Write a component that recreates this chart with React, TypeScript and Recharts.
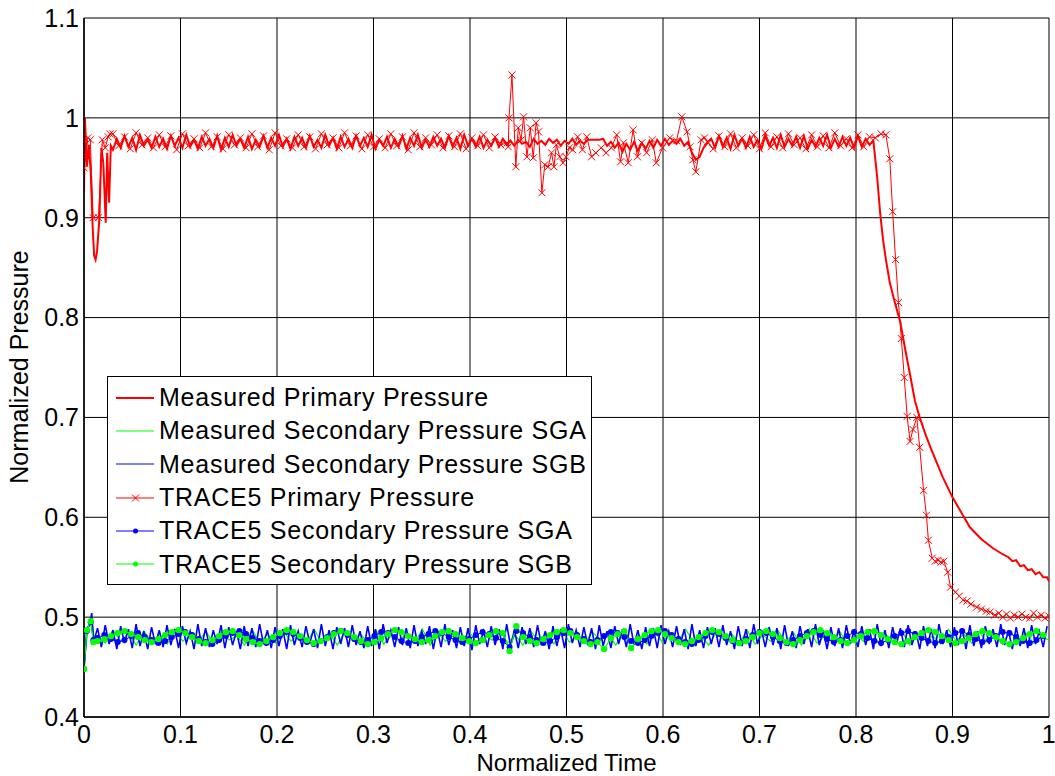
import { LineChart, Line, XAxis, YAxis, CartesianGrid } from 'recharts';

type Pt = { t: number; v: number };

const xTicks = [0, 0.1, 0.2, 0.3, 0.4, 0.5, 0.6, 0.7, 0.8, 0.9, 1];
const yTicks = [0.4, 0.5, 0.6, 0.7, 0.8, 0.9, 1, 1.1];

const seriesNames = [
  'Measured Primary Pressure',
  'Measured Secondary Pressure SGA',
  'Measured Secondary Pressure SGB',
  'TRACE5 Primary Pressure',
  'TRACE5 Secondary Pressure SGA',
  'TRACE5 Secondary Pressure SGB',
];

// ---- Measured primary pressure ----
const mppHeadT = [0, 0.001, 0.003, 0.005, 0.007, 0.009, 0.0105, 0.012, 0.0135, 0.016, 0.018, 0.02, 0.0225, 0.024, 0.026, 0.0278, 0.03];
const mppHeadV = [0.925, 1.0, 0.951, 0.973, 0.945, 0.89, 0.862, 0.858, 0.866, 0.9, 0.97, 0.955, 0.895, 0.965, 0.915, 0.972, 0.968];
const mppBodyV = [
  0.979, 0.970, 0.982, 0.971, 0.980, 0.968, 0.983, 0.972, 0.978, 0.970,
  0.981, 0.971, 0.979, 0.969, 0.982, 0.972, 0.980, 0.970, 0.983, 0.971,
  0.978, 0.969, 0.981, 0.972, 0.979, 0.970, 0.982, 0.968, 0.980, 0.971,
  0.983, 0.972, 0.979, 0.970, 0.981, 0.969, 0.978, 0.971, 0.982, 0.970,
  0.980, 0.972, 0.983, 0.971, 0.979, 0.969, 0.981, 0.972, 0.980, 0.970,
  0.982, 0.971, 0.978, 0.970, 0.983, 0.972, 0.980, 0.969, 0.981, 0.971,
  0.979, 0.970, 0.982, 0.972, 0.980, 0.971, 0.983, 0.969, 0.978, 0.972,
  0.981, 0.970, 0.979, 0.971, 0.982, 0.969, 0.980, 0.972, 0.983, 0.970,
  0.978, 0.971, 0.981, 0.972, 0.979, 0.970, 0.982, 0.971, 0.980, 0.969,
  0.983, 0.972, 0.979, 0.971, 0.981, 0.970, 0.978, 0.972, 0.980, 0.971,
  0.979, 0.973, 0.977, 0.972, 0.978, 0.974, 0.976, 0.971, 0.979, 0.974,
  0.977, 0.973, 0.979, 0.975, 0.978, 0.972, 0.977, 0.974, 0.979, 0.973,
  0.977, 0.974, 0.978, 0.978, 0.978, 0.978, 0.979, 0.972, 0.976, 0.970,
  0.975, 0.966, 0.974, 0.968, 0.976, 0.967, 0.975, 0.969, 0.977, 0.970,
  0.978, 0.972, 0.979, 0.973, 0.977, 0.974, 0.979, 0.972, 0.976, 0.965,
  0.958, 0.961, 0.970, 0.975, 0.979, 0.970, 0.982, 0.971, 0.980, 0.969,
  0.983, 0.972, 0.979, 0.970, 0.981, 0.971, 0.978, 0.969, 0.982, 0.972,
  0.980, 0.970, 0.983, 0.971, 0.979, 0.972, 0.981, 0.970, 0.982, 0.969,
  0.978, 0.971, 0.980, 0.972, 0.983, 0.970, 0.979, 0.971, 0.981, 0.972,
  0.980, 0.970, 0.982, 0.971, 0.979, 0.973, 0.977,
];
const mppTailT = [0.822, 0.825, 0.828, 0.831, 0.835, 0.84, 0.846, 0.851, 0.856, 0.861, 0.866, 0.872, 0.878, 0.884, 0.89, 0.895, 0.9, 0.909, 0.918, 0.93, 0.942, 0.952, 0.958, 0.962, 0.966, 0.97, 0.974, 0.978, 0.982, 0.986, 0.99, 0.994, 0.998, 1.0];
const mppTailV = [0.94, 0.905, 0.878, 0.858, 0.835, 0.816, 0.795, 0.768, 0.743, 0.717, 0.7, 0.683, 0.668, 0.654, 0.64, 0.63, 0.62, 0.605, 0.59, 0.578, 0.569, 0.563, 0.560, 0.556, 0.557, 0.551, 0.552, 0.547, 0.548, 0.543, 0.545, 0.540, 0.540, 0.536];

// ---- Measured secondary pressure SGA (green) ----
const msgaHeadT = [0, 0.004, 0.008, 0.011];
const msgaHeadV = [0.448, 0.49, 0.498, 0.476];
const msgaBodyV = [
  0.481, 0.474, 0.487, 0.476, 0.484, 0.472, 0.486, 0.475, 0.483, 0.473,
  0.488, 0.476, 0.482, 0.474, 0.486, 0.473, 0.485, 0.477, 0.481, 0.472,
  0.487, 0.475, 0.483, 0.474, 0.486, 0.476, 0.482, 0.473, 0.488, 0.475,
  0.484, 0.472, 0.486, 0.477, 0.483, 0.474, 0.487, 0.473, 0.482, 0.476,
  0.485, 0.474, 0.488, 0.472, 0.484, 0.476, 0.481, 0.473, 0.486, 0.475,
  0.483, 0.477, 0.487, 0.474, 0.482, 0.472, 0.486, 0.476, 0.484, 0.473,
  0.488, 0.475, 0.481, 0.474, 0.485, 0.477, 0.483, 0.472, 0.487, 0.476,
  0.482, 0.473, 0.486, 0.475, 0.484, 0.474, 0.488, 0.476, 0.481, 0.472,
  0.485, 0.477, 0.483, 0.474, 0.487, 0.473, 0.482, 0.476, 0.486, 0.475,
  0.484, 0.472, 0.488, 0.474, 0.481, 0.477, 0.485, 0.473, 0.483, 0.476,
  0.487, 0.474, 0.482, 0.475, 0.486, 0.472, 0.484, 0.477, 0.481, 0.473,
  0.488, 0.476, 0.483, 0.474, 0.485, 0.475, 0.482, 0.473, 0.486, 0.476,
  0.484, 0.474, 0.481, 0.477,
];

// ---- Measured secondary pressure SGB (blue) ----
const msgbHeadT = [0, 0.003, 0.006, 0.008, 0.01];
const msgbHeadV = [0.448, 0.489, 0.492, 0.504, 0.475];
const msgbBodyV = [
  0.489, 0.470, 0.492, 0.473, 0.487, 0.468, 0.491, 0.474, 0.488, 0.469,
  0.493, 0.471, 0.486, 0.468, 0.490, 0.473, 0.487, 0.470, 0.492, 0.472,
  0.488, 0.469, 0.491, 0.474, 0.486, 0.468, 0.493, 0.471, 0.489, 0.470,
  0.487, 0.473, 0.492, 0.469, 0.490, 0.472, 0.486, 0.468, 0.491, 0.471,
  0.489, 0.470, 0.493, 0.473, 0.487, 0.469, 0.490, 0.471, 0.488, 0.468,
  0.492, 0.472, 0.486, 0.470, 0.491, 0.474, 0.488, 0.469, 0.493, 0.471,
  0.487, 0.468, 0.490, 0.473, 0.489, 0.470, 0.492, 0.472, 0.486, 0.469,
  0.491, 0.471, 0.488, 0.468, 0.493, 0.474, 0.487, 0.470, 0.490, 0.472,
  0.489, 0.469, 0.492, 0.471, 0.486, 0.473, 0.491, 0.468, 0.488, 0.470,
  0.493, 0.472, 0.487, 0.469, 0.490, 0.471, 0.489, 0.467, 0.492, 0.473,
  0.486, 0.470, 0.491, 0.472, 0.488, 0.468, 0.493, 0.471, 0.487, 0.469,
  0.490, 0.473, 0.489, 0.470, 0.492, 0.472, 0.486, 0.468, 0.491, 0.471,
  0.488, 0.469, 0.493, 0.474, 0.487, 0.470, 0.490, 0.472, 0.489, 0.468,
  0.492, 0.471, 0.486, 0.469, 0.491, 0.473, 0.488, 0.470, 0.493, 0.472,
  0.487, 0.468, 0.490, 0.471, 0.489, 0.469, 0.492, 0.473, 0.486, 0.470,
  0.491, 0.472, 0.488, 0.468, 0.493, 0.471, 0.487, 0.469, 0.490, 0.473,
  0.489, 0.470, 0.492, 0.472, 0.486, 0.468, 0.491, 0.471, 0.488, 0.469,
  0.493, 0.473, 0.487, 0.470, 0.490, 0.472, 0.489, 0.468, 0.492, 0.471,
  0.486, 0.469, 0.491, 0.473, 0.488, 0.470, 0.493, 0.472, 0.487, 0.468,
  0.490, 0.471, 0.489, 0.469, 0.492, 0.473, 0.486, 0.470, 0.491, 0.472,
  0.488, 0.468, 0.493, 0.471, 0.487, 0.469, 0.490, 0.473, 0.489, 0.470,
  0.492, 0.472, 0.486, 0.468, 0.491, 0.471, 0.488, 0.469, 0.493, 0.473,
  0.487, 0.470, 0.490, 0.472, 0.489, 0.468, 0.492, 0.471, 0.486, 0.469,
  0.491, 0.473, 0.488, 0.470, 0.493, 0.472, 0.487, 0.468, 0.490, 0.471,
  0.489, 0.469, 0.492, 0.473, 0.486, 0.470, 0.491,
];

// ---- TRACE5 primary pressure ----
const tppHeadT = [0, 0.002, 0.004, 0.0065, 0.0095, 0.015, 0.019, 0.022, 0.025, 0.027];
const tppHeadV = [0.95, 0.962, 0.98, 0.978, 0.9, 0.9, 0.978, 0.97, 0.981, 0.984];
const tppBody1V = [
  0.984, 0.972, 0.981, 0.969, 0.985, 0.973, 0.980, 0.970, 0.983, 0.971,
  0.982, 0.968, 0.984, 0.972, 0.979, 0.970, 0.985, 0.971, 0.981, 0.969,
  0.983, 0.973, 0.980, 0.970, 0.984, 0.971, 0.982, 0.968, 0.985, 0.972,
  0.979, 0.970, 0.983, 0.971, 0.981, 0.969, 0.984, 0.973, 0.980, 0.970,
  0.985, 0.972, 0.982, 0.969, 0.983, 0.971, 0.979, 0.970, 0.984, 0.972,
  0.981, 0.968, 0.985, 0.971, 0.980, 0.973, 0.983, 0.970, 0.982, 0.971,
  0.984, 0.969, 0.980, 0.972, 0.983, 0.970, 0.981, 0.973,
];
const tppMidT = [
  0.4385, 0.4397, 0.4404, 0.4435, 0.4475, 0.45, 0.453, 0.4555, 0.459, 0.4625,
  0.4655, 0.4685, 0.471, 0.4745, 0.4775, 0.481, 0.4845, 0.487, 0.4895, 0.493,
  0.4965, 0.4995, 0.503, 0.5065, 0.5115, 0.5165, 0.521, 0.526, 0.5305, 0.536,
  0.541, 0.5465, 0.552, 0.556, 0.559, 0.564, 0.569, 0.5735, 0.578, 0.583,
  0.589, 0.593, 0.5995, 0.607, 0.614, 0.6195, 0.625, 0.628, 0.631, 0.634,
  0.6395, 0.643,
];
const tppMidV = [
  0.975, 0.971, 1.0, 1.043, 0.951, 0.99, 0.978, 1.001, 0.961, 0.99,
  0.96, 0.995, 0.986, 0.925, 0.953, 0.951, 0.965, 0.951, 0.973, 0.961,
  0.955, 0.961, 0.97, 0.968, 0.981, 0.968, 0.981, 0.961, 0.965, 0.97,
  0.965, 0.97, 0.983, 0.956, 0.975, 0.955, 0.988, 0.961, 0.975, 0.965,
  0.978, 0.955, 0.97, 0.98, 0.977, 1.001, 0.986, 0.971, 0.958, 0.946,
  0.978, 0.98,
];
const tppBody2V = [
  0.976, 0.969, 0.982, 0.971, 0.984, 0.970, 0.980, 0.972, 0.983, 0.969,
  0.985, 0.971, 0.981, 0.970, 0.984, 0.973, 0.980, 0.969, 0.983, 0.971,
  0.982, 0.970, 0.985, 0.972, 0.979, 0.970, 0.983, 0.971, 0.981, 0.980,
  0.984,
];
const tppTailT = [
  0.831, 0.835, 0.838, 0.841, 0.844, 0.847, 0.85, 0.853, 0.856, 0.859,
  0.863, 0.866, 0.87, 0.873, 0.875, 0.879, 0.882, 0.885, 0.888, 0.891,
  0.895, 0.898, 0.903, 0.907, 0.911, 0.915, 0.919, 0.925, 0.93, 0.935,
  0.939, 0.944, 0.948, 0.952, 0.956, 0.96, 0.964, 0.968, 0.972, 0.976,
  0.98, 0.984, 0.988, 0.992, 0.996, 1.0,
];
const tppTailV = [
  0.983, 0.959, 0.906, 0.858, 0.815, 0.779, 0.74, 0.701, 0.676, 0.688,
  0.7, 0.67, 0.627, 0.602, 0.577, 0.559, 0.556, 0.557, 0.555, 0.556,
  0.545, 0.53, 0.525, 0.521, 0.517, 0.516, 0.513, 0.51, 0.508, 0.506,
  0.505, 0.502, 0.504, 0.5, 0.503, 0.499, 0.502, 0.5, 0.503, 0.5,
  0.499, 0.504, 0.5, 0.502, 0.499, 0.501,
];

// ---- TRACE5 secondary pressure SGA (blue, dots) ----
const tsgaHeadT = [0, 0.003, 0.007, 0.0097];
const tsgaHeadV = [0.448, 0.486, 0.495, 0.477];
const tsgaBodyV = [
  0.479, 0.482, 0.478, 0.475, 0.477, 0.481, 0.484, 0.480, 0.477, 0.474,
  0.476, 0.480, 0.483, 0.485, 0.482, 0.478, 0.475, 0.473, 0.477, 0.481,
  0.484, 0.486, 0.483, 0.479, 0.476, 0.474, 0.477, 0.481, 0.485, 0.483,
  0.479, 0.475, 0.473, 0.476, 0.480, 0.484, 0.486, 0.482, 0.478, 0.475,
  0.477, 0.481, 0.485, 0.484, 0.480, 0.476, 0.474, 0.476, 0.480, 0.483,
  0.486, 0.484, 0.480, 0.477, 0.475, 0.478, 0.482, 0.485, 0.483, 0.479,
  0.476, 0.470, 0.486, 0.484, 0.480, 0.477, 0.474, 0.476, 0.480, 0.484,
  0.486, 0.482, 0.478, 0.475, 0.477, 0.481, 0.485, 0.484, 0.480, 0.476,
  0.474, 0.477, 0.481, 0.484, 0.486, 0.482, 0.478, 0.475, 0.473, 0.477,
  0.481, 0.485, 0.483, 0.479, 0.476, 0.474, 0.478, 0.482, 0.485, 0.484,
  0.480, 0.476, 0.474, 0.477, 0.481, 0.484, 0.486, 0.482, 0.478, 0.475,
  0.477, 0.481, 0.485, 0.483, 0.479, 0.476, 0.474, 0.477, 0.481, 0.484,
  0.486, 0.483, 0.479, 0.476, 0.474, 0.476, 0.480, 0.484, 0.486, 0.482,
  0.478, 0.475, 0.477, 0.481, 0.485, 0.484, 0.480, 0.476, 0.474, 0.477,
  0.481,
];

// ---- TRACE5 secondary pressure SGB (green, dots) ----
const tsgbHeadT = [0, 0.003, 0.007, 0.0097];
const tsgbHeadV = [0.448, 0.487, 0.496, 0.475];
const tsgbBodyV = [
  0.476, 0.478, 0.481, 0.484, 0.486, 0.483, 0.480, 0.477, 0.475, 0.478,
  0.482, 0.485, 0.487, 0.484, 0.480, 0.476, 0.474, 0.477, 0.481, 0.485,
  0.486, 0.482, 0.478, 0.475, 0.473, 0.476, 0.480, 0.484, 0.487, 0.485,
  0.481, 0.477, 0.474, 0.476, 0.479, 0.483, 0.486, 0.484, 0.480, 0.476,
  0.473, 0.475, 0.479, 0.483, 0.487, 0.485, 0.481, 0.478, 0.475, 0.477,
  0.481, 0.485, 0.486, 0.483, 0.479, 0.476, 0.474, 0.477, 0.482, 0.486,
  0.484, 0.466, 0.491, 0.480, 0.476, 0.474, 0.478, 0.482, 0.485, 0.487,
  0.484, 0.480, 0.476, 0.473, 0.475, 0.468, 0.479, 0.483, 0.486, 0.469,
  0.478, 0.482, 0.486, 0.487, 0.483, 0.479, 0.475, 0.473, 0.476, 0.480,
  0.484, 0.487, 0.485, 0.481, 0.477, 0.474, 0.476, 0.480, 0.484, 0.486,
  0.483, 0.479, 0.475, 0.473, 0.477, 0.481, 0.485, 0.487, 0.484, 0.480,
  0.476, 0.474, 0.477, 0.481, 0.485, 0.486, 0.482, 0.478, 0.475, 0.473,
  0.476, 0.480, 0.484, 0.487, 0.485, 0.481, 0.477, 0.474, 0.476, 0.479,
  0.483, 0.486, 0.484, 0.480, 0.476, 0.473, 0.475, 0.479, 0.483, 0.486,
  0.482,
];

// explicit (t, v) pairs
const pairs = (ts: number[], vs: number[]): Pt[] => ts.map((t, i) => ({ t, v: vs[i] }));
// values sampled on an even time grid from start to end
const grid = (start: number, end: number, vs: number[]): Pt[] =>
  vs.map((v, i) => ({ t: start + (i * (end - start)) / (vs.length - 1), v }));

const measPrimary = [...pairs(mppHeadT, mppHeadV), ...grid(0.034, 0.818, mppBodyV), ...pairs(mppTailT, mppTailV)];
const measSGA = [...pairs(msgaHeadT, msgaHeadV), ...grid(0.014, 1.0, msgaBodyV)];
const measSGB = [...pairs(msgbHeadT, msgbHeadV), ...grid(0.014, 0.998, msgbBodyV)];
const tracePrimary = [
  ...pairs(tppHeadT, tppHeadV),
  ...grid(0.03, 0.432, tppBody1V),
  ...pairs(tppMidT, tppMidV),
  ...grid(0.646, 0.826, tppBody2V),
  ...pairs(tppTailT, tppTailV),
];
const traceSGA = [...pairs(tsgaHeadT, tsgaHeadV), ...grid(0.014, 0.994, tsgaBodyV)];
const traceSGB = [...pairs(tsgbHeadT, tsgbHeadV), ...grid(0.014, 0.994, tsgbBodyV)];

const RED = '#ff0000';
const GREEN = '#00ff00';
const BLUE = '#0000ff';
const FONT = "'Liberation Sans', Arial, Helvetica, sans-serif";

const XMark = (props: any) => {
  const { cx, cy, index } = props;
  if (cx == null || cy == null) return <g key={`xm-${index}`} />;
  const s = 3.5;
  return (
    <path
      key={`xm-${index}`}
      d={`M${cx - s},${cy - s}L${cx + s},${cy + s}M${cx - s},${cy + s}L${cx + s},${cy - s}`}
      stroke={RED}
      strokeWidth={1}
      fill="none"
    />
  );
};

const legendStyles = [
  { color: RED, width: 2, marker: '' },
  { color: GREEN, width: 1, marker: '' },
  { color: BLUE, width: 1, marker: '' },
  { color: RED, width: 1, marker: 'x' },
  { color: BLUE, width: 1, marker: 'dot' },
  { color: GREEN, width: 1, marker: 'dot' },
];

function LegendBox() {
  return (
    <div
      style={{
        position: 'absolute',
        left: 107,
        top: 376,
        width: 483,
        padding: '4px 0 3px 0',
        background: '#fff',
        border: '1px solid #000',
        fontFamily: FONT,
        fontSize: 25,
        letterSpacing: 0.75,
        color: '#000',
      }}
    >
      {seriesNames.map((name, i) => {
        const st = legendStyles[i];
        return (
          <div key={name} style={{ height: 33.3, display: 'flex', alignItems: 'center', whiteSpace: 'nowrap' }}>
            <svg width={51} height={14} style={{ flex: 'none' }}>
              <line x1={8} y1={7} x2={46} y2={7} stroke={st.color} strokeWidth={st.width} />
              {st.marker === 'x' && (
                <path d="M24,3.5L31,10.5M24,10.5L31,3.5" stroke={st.color} strokeWidth={1} />
              )}
              {st.marker === 'dot' && <circle cx={27.5} cy={7} r={2.5} fill={st.color} />}
            </svg>
            <span>{name}</span>
          </div>
        );
      })}
    </div>
  );
}

const tickStyle = { fill: '#000', fontSize: 25, fontFamily: FONT };

export default function App() {
  return (
    <div style={{ position: 'absolute', left: 0, top: 0, width: 1055, height: 776, background: '#fff' }}>
      <LineChart width={1055} height={776} margin={{ top: 18, right: 6, bottom: 0, left: 0 }}>
        <CartesianGrid stroke="#000" strokeWidth={1} horizontalValues={yTicks} verticalValues={xTicks} />
        <XAxis
          dataKey="t"
          type="number"
          domain={[0, 1]}
          ticks={xTicks}
          height={59}
          tickSize={0}
          tickMargin={8}
          tick={tickStyle}
          axisLine={{ stroke: '#000', strokeWidth: 1.5 }}
          allowDataOverflow
          label={{
            content: () => (
              <text x={566.5} y={770.5} textAnchor="middle" fontSize={24} fontFamily={FONT} fill="#000">
                Normalized Time
              </text>
            ),
          }}
        />
        <YAxis
          type="number"
          domain={[0.4, 1.1]}
          ticks={yTicks}
          width={84}
          tickSize={0}
          tickMargin={5}
          tick={tickStyle}
          axisLine={{ stroke: '#000', strokeWidth: 1.5 }}
          allowDataOverflow
          label={{
            content: () => (
              <text
                x={28}
                y={367}
                transform="rotate(-90 28 367)"
                textAnchor="middle"
                fontSize={25}
                fontFamily={FONT}
                fill="#000"
              >
                Normalized Pressure
              </text>
            ),
          }}
        />
        <Line data={measPrimary} dataKey="v" name={seriesNames[0]} type="linear" stroke={RED} strokeWidth={2} dot={false} activeDot={false} isAnimationActive={false} />
        <Line data={measSGA} dataKey="v" name={seriesNames[1]} type="linear" stroke={GREEN} strokeWidth={1.2} dot={false} activeDot={false} isAnimationActive={false} />
        <Line data={measSGB} dataKey="v" name={seriesNames[2]} type="linear" stroke={BLUE} strokeWidth={1.6} dot={false} activeDot={false} isAnimationActive={false} />
        <Line data={tracePrimary} dataKey="v" name={seriesNames[3]} type="linear" stroke={RED} strokeWidth={1} dot={XMark} activeDot={false} isAnimationActive={false} />
        <Line data={traceSGA} dataKey="v" name={seriesNames[4]} type="linear" stroke={BLUE} strokeWidth={1} dot={{ r: 3, fill: BLUE, stroke: 'none' }} activeDot={false} isAnimationActive={false} />
        <Line data={traceSGB} dataKey="v" name={seriesNames[5]} type="linear" stroke={GREEN} strokeWidth={1.2} dot={{ r: 3.2, fill: GREEN, stroke: 'none' }} activeDot={false} isAnimationActive={false} />
      </LineChart>
      <LegendBox />
    </div>
  );
}
